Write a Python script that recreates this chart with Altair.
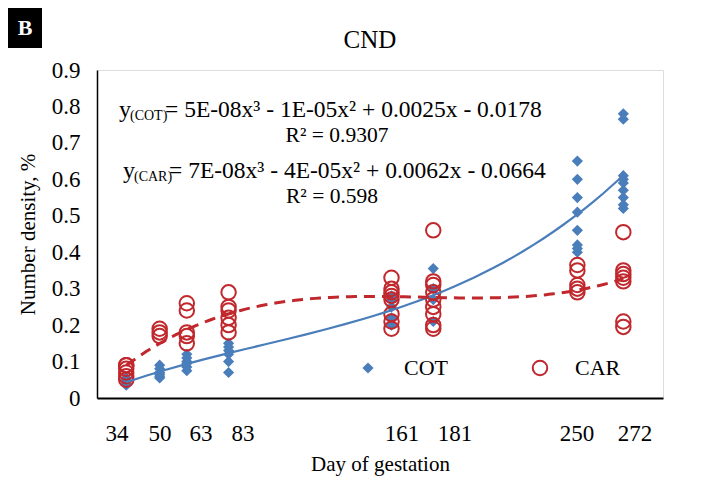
import altair as alt
import pandas as pd

# ---- data ----
days = [34, 50, 63, 83, 161, 181, 250, 272]
cot_values = [
    [0.035, 0.04, 0.05, 0.055],
    [0.055, 0.06, 0.065, 0.07, 0.08, 0.09],
    [0.075, 0.085, 0.095, 0.10, 0.11, 0.12],
    [0.07, 0.10, 0.12, 0.13, 0.14, 0.15],
    [0.20, 0.22, 0.25, 0.27, 0.28],
    [0.21, 0.27, 0.30, 0.355],
    [0.40, 0.41, 0.42, 0.46, 0.51, 0.55, 0.60, 0.65],
    [0.52, 0.53, 0.55, 0.57, 0.59, 0.60, 0.61, 0.765, 0.78],
]
car_values = [
    [0.05, 0.06, 0.07, 0.08, 0.09, 0.09],
    [0.17, 0.18, 0.19],
    [0.15, 0.17, 0.18, 0.24, 0.26],
    [0.18, 0.20, 0.22, 0.24, 0.25, 0.29],
    [0.19, 0.21, 0.23, 0.27, 0.28, 0.29, 0.30, 0.33],
    [0.19, 0.20, 0.23, 0.25, 0.27, 0.29, 0.31, 0.32, 0.46],
    [0.29, 0.30, 0.31, 0.35, 0.365],
    [0.195, 0.21, 0.32, 0.33, 0.34, 0.35, 0.455],
]
tick_labels = ["34", "50", "63", "83", "161", "181", "250", "272"]
eq_cot = "= 5E-08x³ - 1E-05x² + 0.0025x - 0.0178"
r2_cot = "R² = 0.9307"
eq_car = "= 7E-08x³ - 4E-05x² + 0.0062x - 0.0664"
r2_car = "R² = 0.598"

# layout (pixel offsets of the hand-placed day labels, relative to the plot's left edge)
tick_label_px = [20, 63, 104, 146, 305, 358, 480, 538]

rows = []
for d, vals in zip(days, cot_values):
    for v in vals:
        rows.append({"day": d, "density": v, "group": "COT"})
for d, vals in zip(days, car_values):
    for v in vals:
        rows.append({"day": d, "density": v, "group": "CAR"})
df = pd.DataFrame(rows)

BLUE = "#4a7ebb"
RED = "#c0282d"
FONT = "Liberation Serif"
PLOT_H = 328

x_enc = alt.X(
    "day:Q",
    scale=alt.Scale(domain=[20, 291], nice=False, zero=False),
    axis=alt.Axis(values=days, title="Day of gestation", ticks=False, grid=False,
                  labels=False,
                  titleFont=FONT, titleFontSize=21, titleFontWeight="normal",
                  titleColor="black", titlePadding=55,
                  domainColor="black", domainWidth=2),
)
y_enc = alt.Y(
    "density:Q",
    scale=alt.Scale(domain=[0, 0.9], nice=False),
    axis=alt.Axis(values=[0, 0.1, 0.2, 0.3, 0.4, 0.5, 0.6, 0.7, 0.8, 0.9],
                  format=".1~f", title="Number density, %", ticks=False, grid=False,
                  labelFont=FONT, labelFontSize=23, labelColor="black", labelPadding=17,
                  titleFont=FONT, titleFontSize=21, titleFontWeight="normal",
                  titleColor="black", titlePadding=13,
                  domainColor="black", domainWidth=1.5),
)

base = alt.Chart(df)

cot_pts = base.transform_filter(alt.datum.group == "COT").mark_point(
    shape="diamond", filled=True, color=BLUE, size=125, opacity=1
).encode(x=x_enc, y=y_enc)

car_pts = base.transform_filter(alt.datum.group == "CAR").mark_point(
    shape="circle", filled=False, color=RED, size=210, strokeWidth=2, opacity=1
).encode(x=x_enc, y=y_enc)

cot_fit = base.transform_filter(alt.datum.group == "COT").transform_regression(
    "day", "density", method="poly", order=3, extent=[34, 272]
).mark_line(color=BLUE, strokeWidth=2.2).encode(x=x_enc, y=y_enc)

car_fit = base.transform_filter(alt.datum.group == "CAR").transform_regression(
    "day", "density", method="poly", order=3, extent=[34, 272]
).mark_line(color=RED, strokeWidth=3, strokeDash=[11, 7]).encode(x=x_enc, y=y_enc)

one = pd.DataFrame({"k": [0]})


def txt(text, x, y, size=24, align="left", baseline="alphabetic", color="black", weight="normal"):
    return alt.Chart(one).mark_text(
        text=text, font=FONT, fontSize=size, align=align, baseline=baseline,
        color=color, fontWeight=weight
    ).encode(x=alt.value(x), y=alt.value(y))


annotations = [
    txt("y", 22, 47),
    txt("(COT)", 33, 50, size=14),
    txt(eq_cot, 68, 47, size=23.5),
    txt(r2_cot, 240, 72, size=21.5, align="center"),
    txt("y", 26, 108),
    txt("(CAR)", 37, 111, size=14),
    txt(eq_car, 72, 108, size=23.5),
    txt(r2_car, 235, 133, size=21.5, align="center"),
    txt("CND", 273, -30, size=25, align="center", baseline="middle"),
    txt("COT", 307, 298, size=22, baseline="middle"),
    txt("CAR", 478, 298, size=22, baseline="middle"),
]
for lab, px in zip(tick_labels, tick_label_px):
    annotations.append(txt(lab, px, PLOT_H + 36, size=23, align="center", baseline="middle"))

legend_cot = alt.Chart(one).mark_point(
    shape="diamond", filled=True, color=BLUE, size=125, opacity=1
).encode(x=alt.value(271), y=alt.value(298))
legend_car = alt.Chart(one).mark_point(
    shape="circle", filled=False, color=RED, size=210, strokeWidth=2, opacity=1
).encode(x=alt.value(443), y=alt.value(298))

badge = alt.Chart(one).mark_rect(color="black").encode(
    x=alt.value(-89), x2=alt.value(-55), y=alt.value(-62), y2=alt.value(-22)
)
badge_text = txt("B", -72, -42, size=22, align="center", baseline="middle",
                 color="white", weight="bold")

chart = alt.layer(
    cot_pts, car_pts, cot_fit, car_fit, legend_cot, legend_car, badge, badge_text, *annotations
).properties(
    width=566, height=PLOT_H, autosize="none",
    padding={"left": 89, "top": 62, "right": 49, "bottom": 81},
).configure_view(strokeWidth=0).configure(background="white")

chart.save("out.html", embed_options={"renderer": "svg", "actions": False})
